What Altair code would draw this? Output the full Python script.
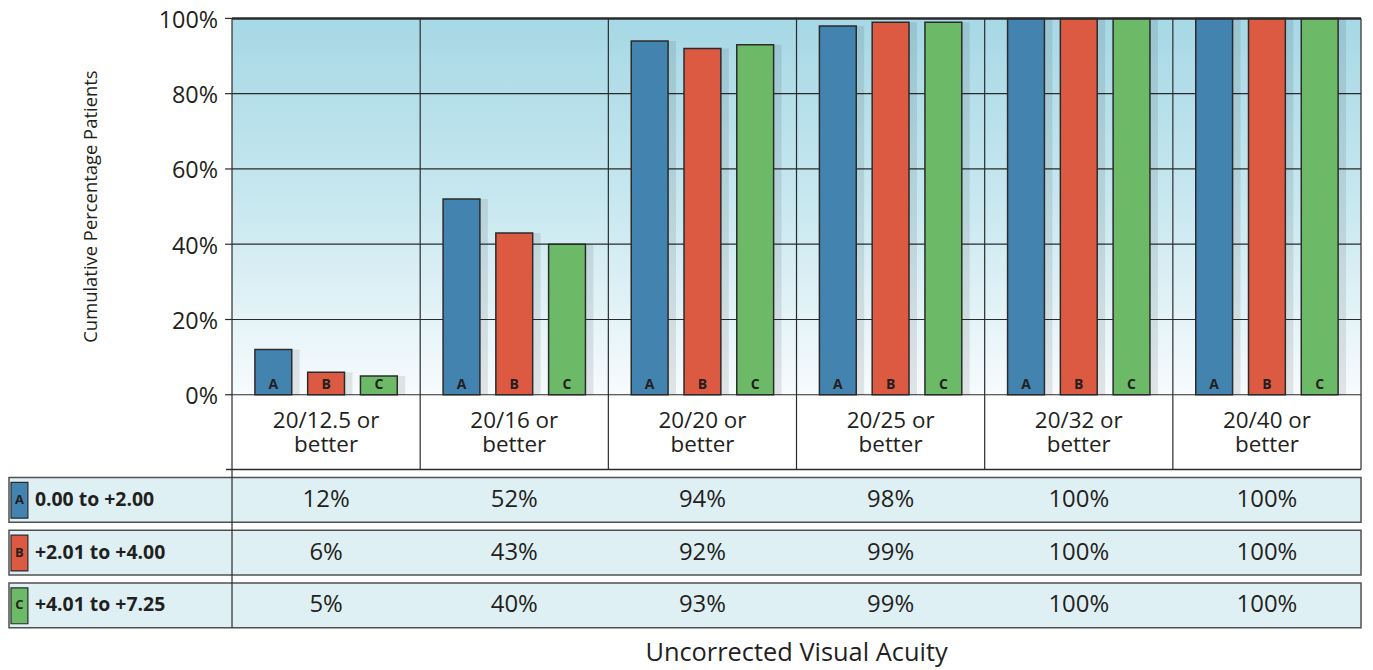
import altair as alt
import pandas as pd

# ---------------- data ----------------
categories = ["20/12.5 or better", "20/16 or better", "20/20 or better",
              "20/25 or better", "20/32 or better", "20/40 or better"]
series_letters = ["A", "B", "C"]
series_labels = ["0.00 to +2.00", "+2.01 to +4.00", "+4.01 to +7.25"]
series_colors = ["#4383b0", "#dc5a41", "#6cba68"]
values_A = [12, 52, 94, 98, 100, 100]
values_B = [6, 43, 92, 99, 100, 100]
values_C = [5, 40, 93, 99, 100, 100]
y_ticks = [0, 20, 40, 60, 80, 100]
y_title = "Cumulative Percentage Patients"
x_title = "Uncorrected Visual Acuity"

series_values = [values_A, values_B, values_C]

# ---------------- layout (pixels) ----------------
FONT = "Open Sans"
TXT = "#231f20"
LINE = "#2b2b2b"
PLOT_L = 9
COL0 = 233
COLW = 189
N = len(categories)
TOP = 17
ZERO = 395
PXPV = 3.78
BOTTOM = 631
CAT_BOTTOM = 470
ROW_TOP0 = 478
ROW_STEP = 53
ROW_H = 45


def xu(px):
    return (px - COL0) / COLW


def yu(px):
    return (ZERO - px) / PXPV


XD = [xu(PLOT_L), N]
YD = [yu(BOTTOM), 100]
W = COL0 + N * COLW - PLOT_L
H = BOTTOM - TOP

xs = alt.Scale(domain=XD, nice=False, zero=False)
ys = alt.Scale(domain=YD, nice=False, zero=False)


def X(f):
    return alt.X(f, type="quantitative", scale=xs, axis=None)


def Y(f):
    return alt.Y(f, type="quantitative", scale=ys, axis=None)


color_scale = alt.Scale(domain=series_letters, range=series_colors)

# background gradient
bg = pd.DataFrame({"x": [0], "x2": [N], "y": [0], "y2": [100]})
bg_layer = alt.Chart(bg).mark_rect(
    fill={"gradient": "linear", "x1": 0, "y1": 0, "x2": 0, "y2": 1,
          "stops": [{"offset": 0, "color": "#a6d8e5"},
                    {"offset": 0.5, "color": "#c9e8f0"},
                    {"offset": 1, "color": "#f7fbfd"}]}
).encode(x=X("x"), x2="x2", y=Y("y"), y2="y2")

# y ticks and labels (labels sit ~2.5px below their gridline)
yt_df = pd.DataFrame({"y": y_ticks, "x": [xu(226)] * len(y_ticks),
                      "x2": [0] * len(y_ticks), "xl": [xu(219)] * len(y_ticks),
                      "yl": [v - 2.5 / PXPV for v in y_ticks],
                      "lab": [f"{v}%" for v in y_ticks]})
ytick_layer = alt.Chart(yt_df).mark_rule(color=LINE, strokeWidth=1.2).encode(
    x=X("x"), x2="x2", y=Y("y"))
ylab_layer = alt.Chart(yt_df).mark_text(font=FONT, fontSize=23.5, color=TXT,
                                        align="right", baseline="middle").encode(
    x=X("xl"), y=Y("yl"), text="lab:N")

# horizontal gridlines
grid = pd.DataFrame({"y": y_ticks[:-1], "x": [0] * (len(y_ticks) - 1),
                     "x2": [N] * (len(y_ticks) - 1)})
grid_layer = alt.Chart(grid).mark_rule(color=LINE, strokeWidth=1.2).encode(
    x=X("x"), x2="x2", y=Y("y"))
top_line = pd.DataFrame({"y": [y_ticks[-1]], "x": [0], "x2": [N]})
top_layer = alt.Chart(top_line).mark_rule(color=LINE, strokeWidth=2.5).encode(
    x=X("x"), x2="x2", y=Y("y"))

# bars
hw = 18.5 / COLW
off = 53 / COLW
shadow_w = 8 / COLW
rows = []
for i, cat in enumerate(categories):
    for j, s in enumerate(series_letters):
        c = i + 0.5 + (j - 1) * off
        rows.append({"cat": cat, "series": s, "value": series_values[j][i],
                     "x": c - hw, "x2": c + hw, "xs2": c + hw + shadow_w,
                     "xc": c, "y0": 0, "ylab": yu(385)})
bars = pd.DataFrame(rows)

shadow_layer = alt.Chart(bars).mark_rect(color="#000000", opacity=0.09).encode(
    x=X("x"), x2="xs2", y=Y("y0"), y2="value")
bar_layer = alt.Chart(bars).mark_rect(stroke=LINE, strokeWidth=1.5).encode(
    x=X("x"), x2="x2", y=Y("y0"), y2="value",
    color=alt.Color("series:N", scale=color_scale, legend=None))
bar_text = alt.Chart(bars).mark_text(font=FONT, fontWeight="bold", fontSize=14,
                                     color=TXT, baseline="middle").encode(
    x=X("xc"), y=Y("ylab"), text="series:N")

# vertical column lines
vl = pd.DataFrame({"x": list(range(N + 1)), "y": [yu(CAT_BOTTOM)] * (N + 1),
                   "y2": [100] * (N + 1)})
vl_layer = alt.Chart(vl).mark_rule(color=LINE, strokeWidth=1.2).encode(
    x=X("x"), y=Y("y"), y2="y2")
cat_bottom = pd.DataFrame({"x": [xu(227)], "x2": [N], "y": [yu(CAT_BOTTOM)]})
cat_bottom_layer = alt.Chart(cat_bottom).mark_rule(color=LINE, strokeWidth=1.5).encode(
    x=X("x"), x2="x2", y=Y("y"))

# category labels (first line centred at y=421, second one lineHeight below)
cats = pd.DataFrame({"x": [i + 0.5 for i in range(N)],
                     "y": [yu(421)] * N,
                     "label": [c.replace(" or ", " or\n") for c in categories]})
cat_layer = alt.Chart(cats).mark_text(font=FONT, fontSize=22.5, color=TXT,
                                      lineBreak="\n", lineHeight=25,
                                      baseline="middle").encode(
    x=X("x"), y=Y("y"), text="label:N")

# table rows
trows = []
for j, s in enumerate(series_letters):
    top = ROW_TOP0 + j * ROW_STEP
    trows.append({"series": s, "label": series_labels[j],
                  "x": xu(PLOT_L), "x2": N, "y": yu(top), "y2": yu(top + ROW_H),
                  "sx": xu(11), "sx2": xu(28), "sy": yu(top + 5), "sy2": yu(top + 41),
                  "sxc": xu(19.5), "yc": yu(top + ROW_H / 2), "lx": xu(35)})
tdf = pd.DataFrame(trows)
box_layer = alt.Chart(tdf).mark_rect(fill="#dff0f5", stroke="#505050",
                                     strokeWidth=1.5).encode(
    x=X("x"), x2="x2", y=Y("y"), y2="y2")
sw_layer = alt.Chart(tdf).mark_rect(stroke=LINE, strokeWidth=1.2).encode(
    x=X("sx"), x2="sx2", y=Y("sy"), y2="sy2",
    color=alt.Color("series:N", scale=color_scale, legend=None))
sw_text = alt.Chart(tdf).mark_text(font=FONT, fontWeight="bold", fontSize=13,
                                   color=TXT, baseline="middle").encode(
    x=X("sxc"), y=Y("yc"), text="series:N")
lab_text = alt.Chart(tdf).mark_text(font=FONT, fontWeight="bold", fontSize=19.5,
                                    color=TXT, align="left", baseline="middle").encode(
    x=X("lx"), y=Y("yc"), text="label:N")

divider = pd.DataFrame({"x": [0], "y": [yu(CAT_BOTTOM)], "y2": [yu(629)]})
div_layer = alt.Chart(divider).mark_rule(color=LINE, strokeWidth=1.2).encode(
    x=X("x"), y=Y("y"), y2="y2")

vrows = []
for j, s in enumerate(series_letters):
    top = ROW_TOP0 + j * ROW_STEP
    for i in range(N):
        vrows.append({"x": i + 0.5, "y": yu(top + ROW_H / 2),
                      "txt": f"{series_values[j][i]}%"})
vdf = pd.DataFrame(vrows)
val_layer = alt.Chart(vdf).mark_text(font=FONT, fontSize=24, color=TXT,
                                     baseline="middle").encode(
    x=X("x"), y=Y("y"), text="txt:N")

# titles
yt = pd.DataFrame({"x": [xu(91)], "y": [yu(206)], "t": [y_title]})
yt_layer = alt.Chart(yt).mark_text(font=FONT, fontSize=18.5, color=TXT, angle=270,
                                   baseline="middle").encode(
    x=X("x"), y=Y("y"), text="t:N")
xt = pd.DataFrame({"x": [N / 2], "y": [yu(654)], "t": [x_title]})
xt_layer = alt.Chart(xt).mark_text(font=FONT, fontSize=25.5, color=TXT,
                                   baseline="middle").encode(
    x=X("x"), y=Y("y"), text="t:N")

chart = alt.layer(
    bg_layer, grid_layer, shadow_layer, bar_layer, top_layer, vl_layer,
    cat_bottom_layer, ytick_layer, ylab_layer, bar_text, cat_layer, box_layer,
    sw_layer, sw_text, lab_text, div_layer, val_layer, yt_layer, xt_layer
).properties(
    width=W, height=H, background="white",
    autosize=alt.AutoSizeParams(type="none"),
    padding={"left": PLOT_L - 8, "top": TOP - 8, "right": 4, "bottom": 38},
).configure_view(strokeWidth=0)

chart.save("out.html", embed_options={"renderer": "svg", "actions": False})
